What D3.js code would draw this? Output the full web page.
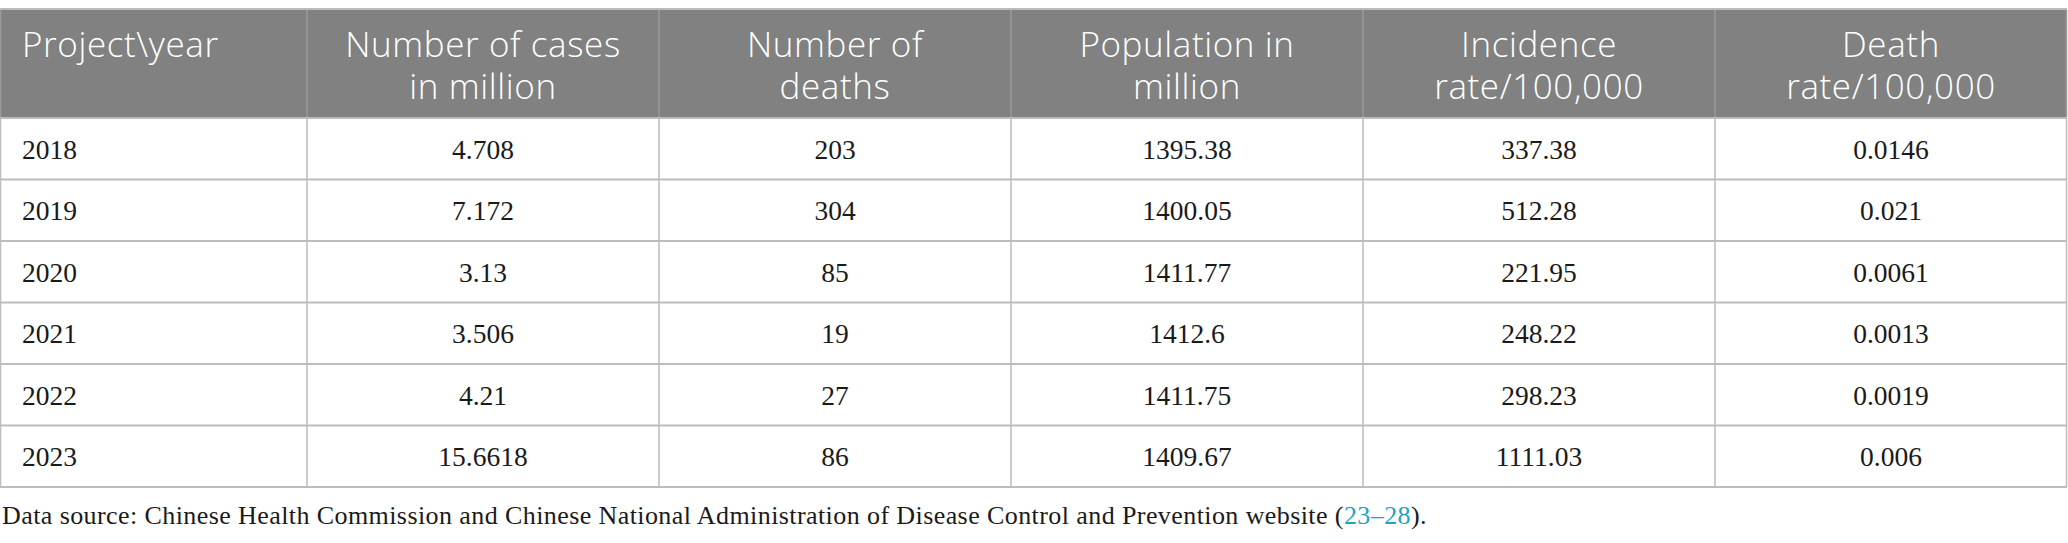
<!DOCTYPE html>
<html>
<head>
<meta charset="utf-8">
<script src="https://cdn.jsdelivr.net/npm/d3@7"></script>
<style>
  html, body { margin: 0; padding: 0; background: #fff; }
  svg { display: block; }
</style>
</head>
<body>
<div id="viz"></div>
<script>
// table data
const headers = [
    ["Project\\year"],
    ["Number of cases", "in million"],
    ["Number of", "deaths"],
    ["Population in", "million"],
    ["Incidence", "rate/100,000"],
    ["Death", "rate/100,000"]
];
const years = ["2018", "2019", "2020", "2021", "2022", "2023"];
const cases = ["4.708", "7.172", "3.13", "3.506", "4.21", "15.6618"];
const deaths = ["203", "304", "85", "19", "27", "86"];
const population = ["1395.38", "1400.05", "1411.77", "1412.6", "1411.75", "1409.67"];
const incidence = ["337.38", "512.28", "221.95", "248.22", "298.23", "1111.03"];
const deathRate = ["0.0146", "0.021", "0.0061", "0.0013", "0.0019", "0.006"];
const footnote = "Data source: Chinese Health Commission and Chinese National Administration of Disease Control and Prevention website (";
const footnoteRef = "23\u201328";

function drawTable() {
    const dimensions = {
        width: 2068,
        height: 543,
        tableTop: 9,
        headerBottom: 118,
        tableBottom: 487,
        tableRight: 2067,
        footWidth: 1425
    };

    const columns = [years, cases, deaths, population, incidence, deathRate];
    // relative column widths (first column is narrower)
    const colWeights = [307, 352, 352, 352, 352, 352];
    const edges = [0, ...d3.cumsum(colWeights)];
    const x = d3.scaleLinear()
        .domain([0, edges[edges.length - 1]])
        .range([0, dimensions.tableRight]);

    const y = d3.scaleBand()
        .domain(years)
        .range([dimensions.headerBottom, dimensions.tableBottom]);

    const viz = d3.select('#viz').append('svg')
        .attr('width', dimensions.width)
        .attr('height', dimensions.height);

    // header background
    viz.append('rect')
        .attr('x', 0)
        .attr('y', dimensions.tableTop)
        .attr('width', dimensions.tableRight)
        .attr('height', dimensions.headerBottom - dimensions.tableTop)
        .attr('fill', '#808180');

    // row separators
    const hLines = [dimensions.tableTop, dimensions.headerBottom, ...years.map(d => y(d) + y.bandwidth())];
    viz.append('g')
        .selectAll('line')
        .data(hLines)
        .enter().append('line')
            .attr('x1', 0)
            .attr('x2', dimensions.tableRight)
            .attr('y1', d => d)
            .attr('y2', d => d)
            .style('stroke', '#bcbcbc')
            .style('stroke-width', 2);

    // column separators
    const edgeX = d => Math.min(Math.max(x(d), 0.5), dimensions.tableRight - 0.5);
    const vg = viz.append('g');
    vg.selectAll('line.head')
        .data(edges)
        .enter().append('line')
            .attr('class', 'head')
            .attr('x1', edgeX)
            .attr('x2', edgeX)
            .attr('y1', dimensions.tableTop + 1)
            .attr('y2', dimensions.headerBottom - 1)
            .style('stroke', '#9a9b9a')
            .style('stroke-width', 1.5);
    vg.selectAll('line.body')
        .data(edges)
        .enter().append('line')
            .attr('class', 'body')
            .attr('x1', edgeX)
            .attr('x2', edgeX)
            .attr('y1', dimensions.headerBottom)
            .attr('y2', dimensions.tableBottom)
            .style('stroke', '#bcbcbc')
            .style('stroke-width', 1.5);

    // header text, one text element per line
    const head = viz.append('g')
        .style('font-family', '"Open Sans", "Noto Sans", sans-serif')
        .style('font-weight', 300)
        .style('font-size', '35px')
        .style('letter-spacing', '0.6px')
        .attr('fill', '#ffffff');

    headers.forEach((lines, i) => {
        const left = i === 0;
        const tx = left ? x(edges[0]) + 22 : (x(edges[i]) + x(edges[i + 1])) / 2;
        head.append('g')
            .selectAll('text')
            .data(lines)
            .enter().append('text')
                .attr('text-anchor', left ? 'start' : 'middle')
                .attr('x', tx)
                .attr('y', (d, j) => 57 + j * 42)
                .text(d => d);
    });

    // body cells
    const body = viz.append('g')
        .style('font-family', '"Liberation Serif", "Times New Roman", serif')
        .style('font-size', '27.5px')
        .attr('fill', '#1a1a1a');

    columns.forEach((col, i) => {
        body.append('g')
            .selectAll('text')
            .data(col)
            .enter().append('text')
                .attr('text-anchor', i === 0 ? 'start' : 'middle')
                .attr('x', i === 0 ? x(edges[0]) + 22 : (x(edges[i]) + x(edges[i + 1])) / 2)
                .attr('y', (d, r) => y(years[r]) + y.bandwidth() / 2 + 10)
                .text(d => d);
    });

    // footnote
    const foot = viz.append('text')
        .attr('x', 2)
        .attr('y', 524)
        .style('font-family', '"Liberation Serif", "Times New Roman", serif')
        .style('font-size', '26px')
        .attr('fill', '#1a1a1a');
    foot.append('tspan').text(footnote);
    foot.append('tspan').attr('fill', '#1aa6bd').text(footnoteRef);
    foot.append('tspan').text(').');

    // stretch the footnote a little so it spans the same width as the source
    const len = foot.node().getComputedTextLength();
    const chars = (footnote + footnoteRef + ').').length;
    foot.style('letter-spacing', ((dimensions.footWidth - len) / chars) + 'px');
}

drawTable();
</script>
</body>
</html>
